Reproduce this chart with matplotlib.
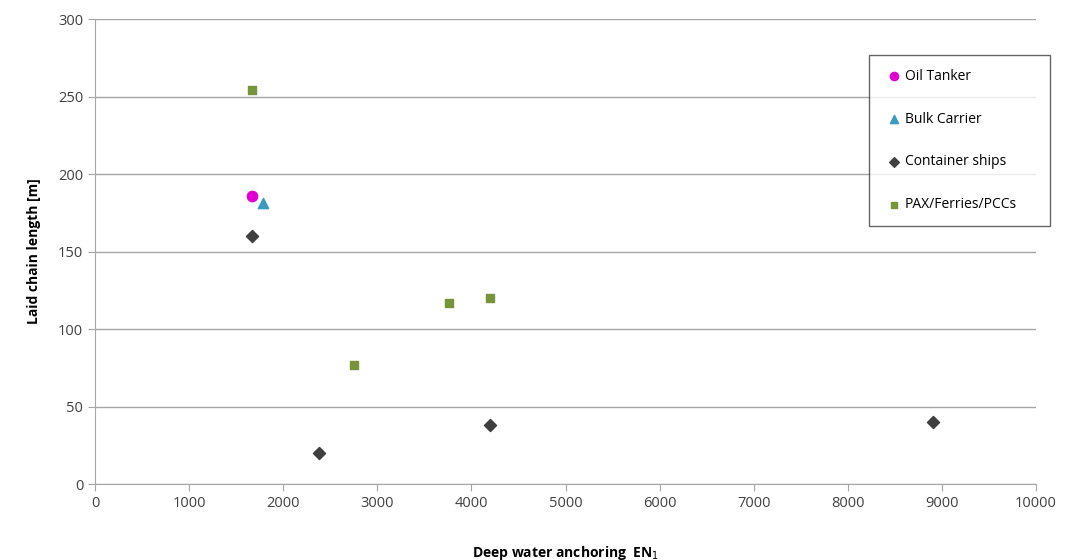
import matplotlib
matplotlib.use("Agg")
import matplotlib.pyplot as plt

# values
oil_x = [1670]
oil_y = [186]
bulk_x = [1785]
bulk_y = [181]
cont_x = [1670, 2380, 4200, 8900]
cont_y = [160, 20, 38, 40]
pax_x = [1670, 2750, 3760, 4200]
pax_y = [254, 77, 117, 120]

plt.rcParams['font.family'] = ['Open Sans', 'DejaVu Sans']

fig = plt.figure(figsize=(10.67, 5.6), dpi=100)
ax = fig.add_axes([0.089, 0.1357, 0.882, 0.8303])

ax.scatter(oil_x, oil_y, marker='o', s=55, color='#E000D0', label='Oil Tanker', zorder=3)
ax.scatter(bulk_x, bulk_y, marker='^', s=55, color='#3A9BBF', label='Bulk Carrier', zorder=3)
ax.scatter(cont_x, cont_y, marker='D', s=38, color='#3F3F3F', label='Container ships', zorder=3)
ax.scatter(pax_x, pax_y, marker='s', s=36, color='#77933C', label='PAX/Ferries/PCCs', zorder=3)

ax.set_xlim(0, 10000)
ax.set_ylim(0, 300)
ax.set_xticks(range(0, 10001, 1000))
ax.set_yticks(range(0, 301, 50))
ax.yaxis.grid(True, color='#A6A6A6', linewidth=1)
ax.set_axisbelow(True)
for s in ['top', 'right']:
    ax.spines[s].set_visible(False)
for s in ['left', 'bottom']:
    ax.spines[s].set_color('#A6A6A6')
ax.tick_params(axis='both', colors='#A6A6A6', labelcolor='#404040', labelsize=10.5, length=5)

ax.set_xlabel('Deep water anchoring  EN$_1$', fontsize=10, fontweight='bold', labelpad=24)
ax.set_ylabel('Laid chain length [m]', fontsize=10, fontweight='bold', labelpad=12)

leg = ax.legend(loc='upper left', bbox_to_anchor=(0.8225, 0.9226 - 0.4, 0.1924, 0.4), mode='expand',
                frameon=True, fancybox=False, handletextpad=0.0, handlelength=1.6,
                borderpad=1.0, labelspacing=2.0, fontsize=10, markerscale=0.8, borderaxespad=0)
leg.get_frame().set_edgecolor('#404040')
leg.get_frame().set_linewidth(1)

fig.savefig('out.png', dpi=100)
